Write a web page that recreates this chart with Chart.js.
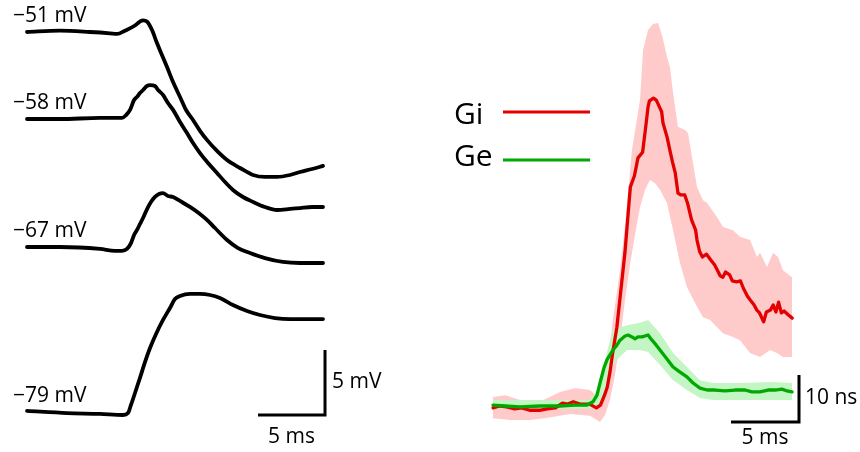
<!DOCTYPE html>
<html>
<head>
<meta charset="utf-8">
<script src="https://cdn.jsdelivr.net/npm/chart.js@4.4.1/dist/chart.umd.min.js"></script>
<style>
  html, body { margin: 0; background: #fff; }
  #wrap { width: 860px; height: 452px; position: relative; }
</style>
</head>
<body>
<div id="wrap"><canvas id="chart"></canvas></div>
<script>
// membrane potential traces: time (ms) and deflection from the holding level (mV)
const restLabels = ["\u221251 mV", "\u221258 mV", "\u221267 mV", "\u221279 mV"];

const t51 = [0, 2.46, 4.7, 6.19, 6.72, 7.31, 8.06, 8.43, 8.66, 8.96, 9.33, 9.7, 10.07, 10.45, 10.9, 11.42, 11.87, 12.39, 12.91, 13.43, 14.18, 14.93, 15.9, 16.87, 17.76, 18.66, 19.63, 20.37, 21.27, 22.09];
const v51 = [0, 0.1, 0, -0.1, -0.15, 0.1, 0.5, 0.8, 0.9, 0.8, 0.15, -0.85, -1.77, -2.7, -3.85, -5.0, -6.0, -6.77, -7.6, -8.3, -9.15, -9.85, -10.46, -11.0, -11.15, -11.15, -11.0, -10.77, -10.54, -10.3];

const t58 = [0, 2.46, 5.45, 7.09, 7.39, 7.69, 7.99, 8.21, 8.43, 8.66, 8.96, 9.18, 9.55, 9.78, 10.15, 10.52, 10.9, 11.42, 11.94, 12.39, 12.91, 13.51, 14.18, 14.78, 15.37, 16.12, 16.87, 17.76, 18.66, 19.63, 20.37, 21.27, 22.09];
const v58 = [0, 0, 0.08, 0.08, 0.3, 0.7, 1.46, 1.7, 2.0, 2.23, 2.54, 2.6, 2.54, 2.23, 1.85, 1.23, 0.7, -0.23, -1.08, -1.85, -2.62, -3.38, -4.15, -4.85, -5.46, -6.0, -6.38, -6.77, -7.0, -6.92, -6.85, -6.77, -6.77];

const t67 = [0, 2.46, 5.45, 6.57, 7.09, 7.46, 7.76, 7.99, 8.21, 8.43, 8.66, 8.96, 9.25, 9.55, 9.85, 10.15, 10.52, 10.9, 11.42, 12.16, 12.91, 13.43, 14.03, 14.93, 15.75, 16.64, 17.76, 19.1, 20.37, 22.09];
const v67 = [0, 0, -0.15, -0.3, -0.3, -0.15, 0.3, 0.92, 1.31, 1.77, 2.23, 2.92, 3.46, 3.85, 4.08, 4.15, 3.92, 3.85, 3.54, 3.08, 2.54, 2.08, 1.46, 0.54, -0.08, -0.46, -0.85, -1.15, -1.23, -1.23];

const t79 = [0, 2.99, 5.45, 7.16, 7.54, 7.76, 8.06, 8.43, 8.81, 9.18, 9.63, 10.15, 10.67, 11.04, 11.42, 12.16, 12.91, 13.66, 14.4, 15.37, 16.42, 17.39, 18.51, 19.63, 21.12, 22.09];
const v79 = [0.08, -0.08, -0.15, -0.23, -0.08, 0.54, 1.46, 2.62, 3.85, 4.92, 6.0, 7.08, 8.0, 8.69, 8.92, 9.08, 9.08, 9.0, 8.77, 8.23, 7.77, 7.46, 7.23, 7.15, 7.15, 7.15];

// conductances: time (ms) and nS, mean line plus band edges
const tGi = [0, 0.5, 1.0, 1.6, 2.1, 2.7, 3.5, 4.0, 4.6, 5.1, 5.5, 5.9, 6.4, 7.1, 7.6, 7.9, 8.2, 8.4, 8.6, 8.8, 9.1, 9.3, 9.7, 9.9, 10.1, 10.4, 10.66, 11.0, 11.2, 11.4, 11.5, 11.8, 12.0, 12.1, 12.4, 12.5, 12.8, 13.0, 13.2, 13.4, 13.6, 13.8, 14.1, 14.3, 14.6, 14.9, 15.0, 15.2, 15.4, 15.7, 16.0, 16.3, 16.5, 16.7, 16.9, 17.1, 17.4, 17.6, 17.9, 18.2, 18.4, 18.7, 18.9, 19.2, 19.4, 19.6, 19.9, 20.1, 20.4, 20.6, 20.8, 21.0, 21.2, 21.4, 21.7, 22.0];
const gi = [-0.4, 0, -0.2, -0.6, -0.4, -0.9, -0.9, -0.6, -0.4, 0.6, 0.4, 0.9, 0.4, 0.4, -0.4, 0.2, 2.3, 4.0, 7.2, 11.3, 16.6, 21.9, 32.6, 39.6, 46.6, 49.0, 52.8, 54.0, 58.7, 63.6, 64.9, 65.5, 65.1, 64.5, 62.6, 60.2, 57.2, 54.5, 51.9, 49.6, 45.3, 44.9, 44.9, 43.2, 39.6, 37.4, 35.3, 32.8, 31.7, 32.3, 31.1, 30.0, 28.9, 27.7, 27.4, 28.5, 27.9, 26.6, 26.4, 26.6, 25.1, 23.4, 22.6, 21.5, 20.4, 19.8, 17.9, 20.0, 20.4, 21.5, 20.0, 22.1, 19.8, 20.2, 19.4, 18.7];

const tGiHi = [0, 0.9, 1.99, 3.46, 4.93, 6.03, 7.13, 7.65, 7.94, 8.38, 8.82, 9.34, 9.71, 10.22, 10.81, 11.03, 11.4, 11.76, 12.13, 12.43, 12.79, 13.01, 13.24, 13.6, 14.12, 14.34, 15.0, 15.44, 15.74, 16.47, 16.91, 17.65, 18.16, 18.9, 19.41, 19.63, 20.15, 20.59, 20.96, 21.32, 21.99];
const giHi = [1.9, 2.3, 1.3, 0.9, 3.0, 3.8, 3.4, 2.1, 2.6, 7.7, 18.3, 28.9, 38.5, 54.5, 65.1, 75.7, 80.0, 81.3, 81.5, 78.9, 74.3, 72.1, 66.6, 59.4, 58.7, 58.1, 46.6, 43.8, 43.2, 40.2, 38.1, 37.4, 36.0, 35.3, 31.7, 32.6, 29.6, 32.6, 31.7, 28.9, 27.4];
const tGiLo = [0, 1.25, 2.72, 3.82, 5.66, 7.13, 7.87, 8.24, 8.6, 8.97, 9.34, 9.71, 10.07, 10.44, 10.81, 11.18, 11.54, 11.91, 12.28, 12.79, 13.24, 13.75, 14.26, 15.0, 15.44, 15.96, 16.91, 17.65, 18.16, 18.9, 19.63, 20.37, 20.88, 21.32, 21.99];
const giLo = [-2.6, -3.0, -3.0, -2.6, -1.7, -2.1, -3.4, -1.9, 1.3, 6.6, 14.0, 22.6, 30.0, 36.4, 42.3, 46.0, 48.1, 47.4, 46.0, 43.2, 37.4, 30.4, 25.3, 21.1, 18.9, 18.3, 15.5, 14.7, 14.0, 11.3, 10.4, 11.9, 11.3, 10.4, 10.4];

const tGe = [0, 0.88, 1.99, 3.46, 4.93, 6.03, 6.91, 7.35, 7.65, 7.87, 8.16, 8.38, 8.6, 8.82, 9.12, 9.34, 9.71, 9.93, 10.22, 10.44, 10.66, 10.96, 11.18, 11.4, 11.69, 11.99, 12.28, 12.79, 13.24, 13.75, 14.26, 14.71, 15.22, 15.74, 16.32, 17.06, 17.79, 18.53, 19.04, 19.63, 20.22, 20.74, 21.25, 21.62, 21.99];
const ge = [0.2, 0, -0.2, 0, 0, 0.2, 0.2, 0.9, 2.3, 4.9, 8.1, 9.8, 10.9, 11.9, 13.0, 14.0, 14.9, 15.1, 14.7, 14.3, 14.7, 14.7, 14.9, 15.1, 14.0, 13.0, 11.9, 10.0, 8.3, 7.2, 6.2, 4.9, 3.8, 3.4, 3.4, 3.2, 3.4, 3.4, 3.0, 3.0, 3.4, 3.4, 3.6, 3.2, 3.0];

const tGeHi = [0, 7.13, 7.65, 8.09, 8.38, 8.82, 9.85, 10.81, 11.4, 12.28, 13.24, 14.26, 15.22, 16.18, 18.16, 20.59, 21.99];
const geHi = [1.3, 1.3, 3.4, 7.7, 11.5, 16.2, 17.2, 17.7, 18.3, 15.5, 11.3, 8.3, 5.5, 4.9, 4.9, 5.1, 4.9];
const tGeLo = [0, 7.13, 7.87, 8.24, 8.6, 8.97, 9.85, 10.81, 11.4, 12.28, 13.24, 14.26, 15.22, 16.18, 18.16, 20.59, 21.99];
const geLo = [-0.6, -0.6, 0.2, 3.4, 7.2, 9.4, 11.9, 11.9, 11.5, 8.7, 5.5, 3.4, 1.7, 1.3, 1.3, 1.3, 1.3];

// ---- layout (pixels) ----
const W = 860, H = 452;
const L = { x0: 27, pxPerMs: 13.4, pxPerMv: 13, bases: [32, 119, 247, 412] };
const R = { x0: 493, pxPerMs: 13.6, y0: 406, pxPerNs: 4.7 };
const FONT = '"Open Sans", "Noto Sans", sans-serif';

// vertical stacking of the voltage traces, in mV units of the left scale
const levels = L.bases.map(b => (H - b) / L.pxPerMv);
const pts = (xs, ys, off = 0) => xs.map((x, i) => ({ x, y: ys[i] + off }));

const traces = [[t51, v51], [t58, v58], [t67, v67], [t79, v79]];
const barL = { t: 22.24, v: (H - 415) / L.pxPerMv };
const barR = { t: 22.5, g: -3.4 };

const RED = "#e30000", PINK = "#ffcaca", GREEN = "#00a800", LIGHTGREEN = "#c4f5c4";

const datasets = [];
traces.forEach(([t, v], i) => {
  datasets.push({
    data: pts(t, v, levels[i]), xAxisID: "xL", yAxisID: "yL",
    borderColor: "#000", borderWidth: 3.8, cubicInterpolationMode: "monotone", order: 0
  });
});
// left scale bar: 5 ms, 5 mV
datasets.push({
  data: [{ x: barL.t - 5, y: barL.v }, { x: barL.t, y: barL.v }, { x: barL.t, y: barL.v + 5 }],
  xAxisID: "xL", yAxisID: "yL", borderColor: "#000", borderWidth: 3, borderCapStyle: "butt", borderJoinStyle: "miter", order: 0
});
// right scale bar: 5 ms, 10 nS
datasets.push({
  data: [{ x: barR.t - 5, y: barR.g }, { x: barR.t, y: barR.g }, { x: barR.t, y: barR.g + 10 }],
  xAxisID: "xR", yAxisID: "yR", borderColor: "#000", borderWidth: 3, borderCapStyle: "butt", borderJoinStyle: "miter", order: 0
});
// bands
datasets.push({ data: pts(tGiHi, giHi), xAxisID: "xR", yAxisID: "yR", borderWidth: 0, borderColor: PINK, backgroundColor: PINK, fill: "+1", order: 6 });
datasets.push({ data: pts(tGiLo, giLo), xAxisID: "xR", yAxisID: "yR", borderWidth: 0, borderColor: PINK, fill: false, order: 6 });
datasets.push({ data: pts(tGeHi, geHi), xAxisID: "xR", yAxisID: "yR", borderWidth: 0, borderColor: LIGHTGREEN, backgroundColor: LIGHTGREEN, fill: "+1", order: 5 });
datasets.push({ data: pts(tGeLo, geLo), xAxisID: "xR", yAxisID: "yR", borderWidth: 0, borderColor: LIGHTGREEN, fill: false, order: 5 });
// mean lines
datasets.push({ data: pts(tGi, gi), xAxisID: "xR", yAxisID: "yR", borderColor: RED, borderWidth: 3.3, order: 2 });
datasets.push({ data: pts(tGe, ge), xAxisID: "xR", yAxisID: "yR", borderColor: GREEN, borderWidth: 3.3, order: 1 });

const annotate = {
  id: "annotate",
  afterDatasetsDraw(chart) {
    const { ctx, scales: { xL, yL, xR, yR } } = chart;
    ctx.save();
    ctx.fillStyle = "#000";
    ctx.textBaseline = "middle";
    ctx.font = "21px " + FONT;
    ctx.textAlign = "left";
    restLabels.forEach((lab, i) => {
      ctx.fillText(lab, xL.getPixelForValue(0) - 14, yL.getPixelForValue(levels[i]) - 16);
    });
    ctx.fillText("5 mV", xL.getPixelForValue(barL.t) + 7, yL.getPixelForValue(barL.v + 2.5));
    ctx.fillText("10 ns", xR.getPixelForValue(barR.t) + 6, yR.getPixelForValue(barR.g + 5));
    ctx.textAlign = "center";
    ctx.fillText("5 ms", xL.getPixelForValue(barL.t - 2.5), yL.getPixelForValue(barL.v) + 22);
    ctx.fillText("5 ms", xR.getPixelForValue(barR.t - 2.5), yR.getPixelForValue(barR.g) + 16);

    // legend
    ctx.textAlign = "left";
    ctx.font = "30px " + FONT;
    [["Gi", RED, 115, 112], ["Ge", GREEN, 157, 160]].forEach(([name, col, ty, ly]) => {
      ctx.fillStyle = "#000";
      ctx.fillText(name, 454, ty);
      ctx.strokeStyle = col;
      ctx.lineWidth = 3;
      ctx.beginPath();
      ctx.moveTo(503, ly);
      ctx.lineTo(590, ly);
      ctx.stroke();
    });
    ctx.restore();
  }
};

new Chart(document.getElementById("chart"), {
  type: "line",
  data: { datasets },
  options: {
    responsive: true,
    maintainAspectRatio: false,
    animation: false,
    layout: { padding: 0 },
    elements: { point: { radius: 0, hoverRadius: 0 }, line: { tension: 0, borderCapStyle: "round", borderJoinStyle: "round" } },
    plugins: { legend: { display: false }, tooltip: { enabled: false } },
    events: [],
    scales: {
      xL: { type: "linear", axis: "x", position: "bottom", display: false, min: -L.x0 / L.pxPerMs, max: (W - L.x0) / L.pxPerMs },
      yL: { type: "linear", axis: "y", position: "left", display: false, min: 0, max: H / L.pxPerMv },
      xR: { type: "linear", axis: "x", position: "bottom", display: false, min: -R.x0 / R.pxPerMs, max: (W - R.x0) / R.pxPerMs },
      yR: { type: "linear", axis: "y", position: "left", display: false, min: -(H - R.y0) / R.pxPerNs, max: R.y0 / R.pxPerNs }
    }
  },
  plugins: [annotate]
});
</script>
</body>
</html>
